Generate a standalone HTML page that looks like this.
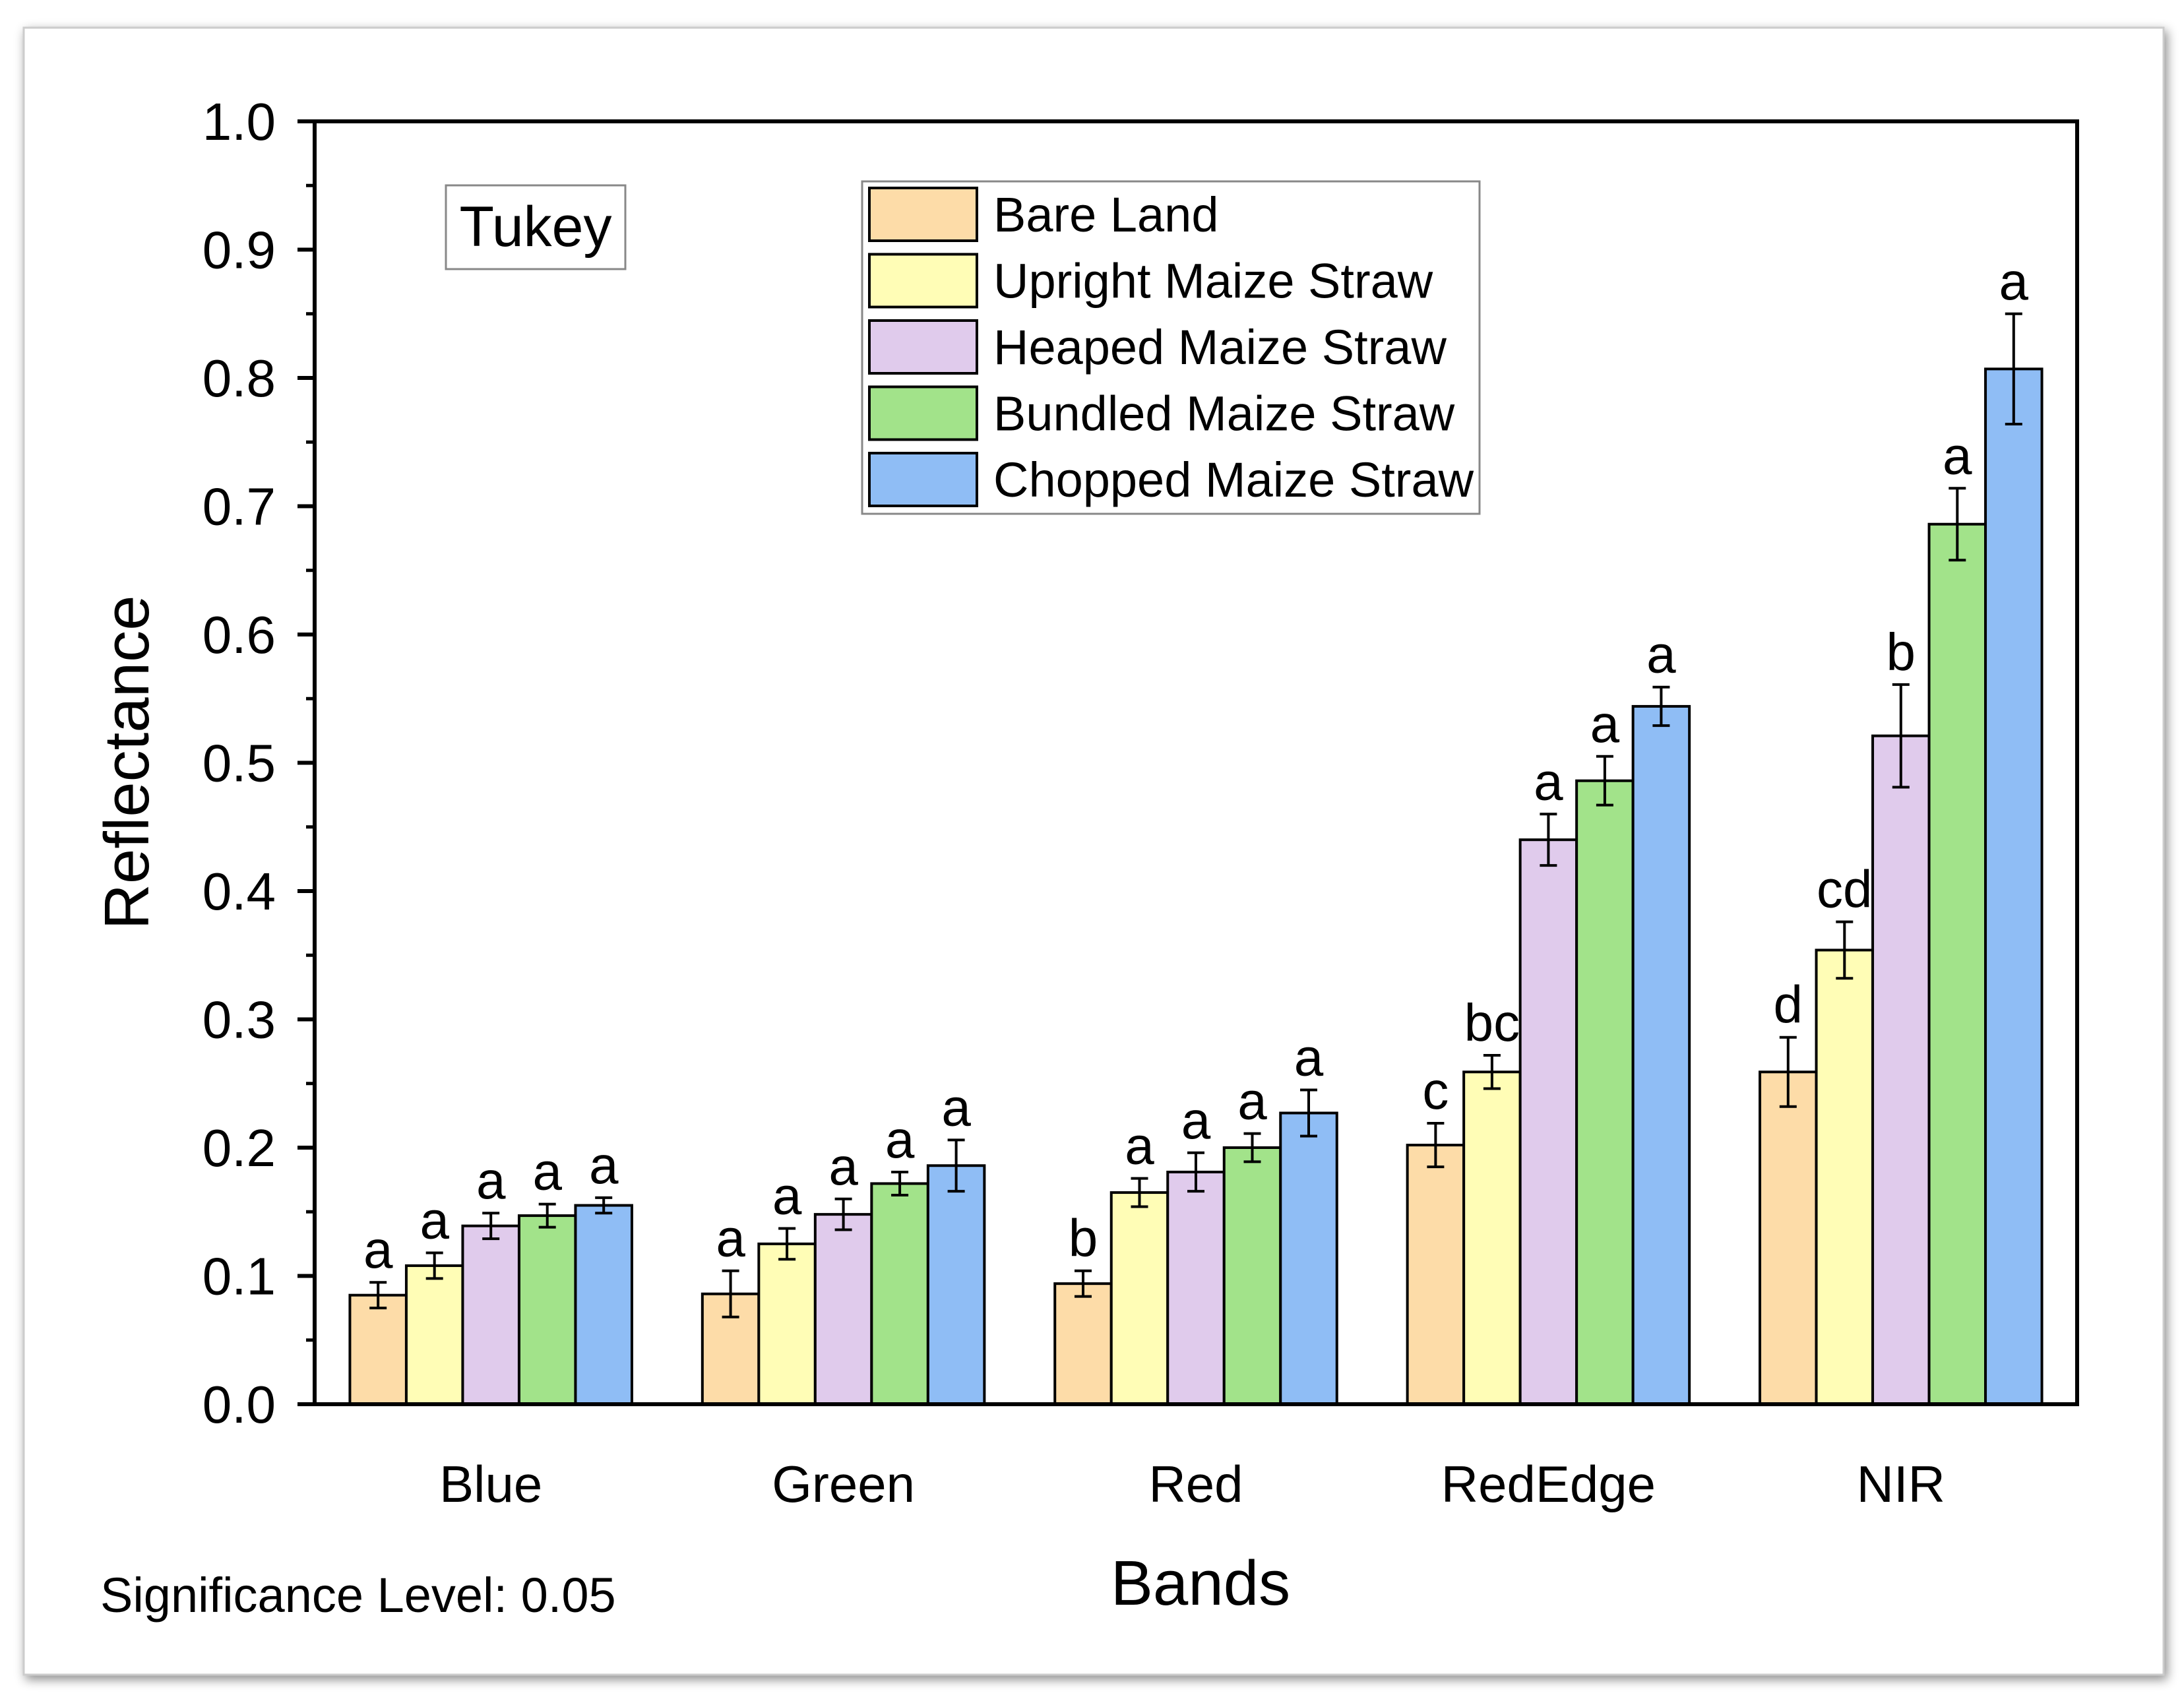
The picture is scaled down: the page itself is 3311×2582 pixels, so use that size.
<!DOCTYPE html>
<html><head><meta charset="utf-8"><style>
html,body{margin:0;padding:0;background:#fff;}
svg{display:block;font-family:"Liberation Sans",Arial,sans-serif;}
</style></head><body>
<svg id="chart" width="3311" height="2582" viewBox="0 0 3311 2582" xmlns="http://www.w3.org/2000/svg">
<defs><filter id="sh" x="-5%" y="-5%" width="110%" height="110%"><feDropShadow dx="4" dy="6" stdDeviation="8" flood-color="#000" flood-opacity="0.45"/></filter></defs>
<rect x="36" y="42" width="3244" height="2497" fill="#fff" stroke="#ccc" stroke-width="3" filter="url(#sh)"/>
<g id="plot"></g>
</svg>
<script>
const categories = ["Blue","Green","Red","RedEdge","NIR"];
const seriesNames = ["Bare Land","Upright Maize Straw","Heaped Maize Straw","Bundled Maize Straw","Chopped Maize Straw"];
const bareLand = [0.085,0.086,0.094,0.202,0.259];
const upright = [0.108,0.125,0.165,0.259,0.354];
const heaped = [0.139,0.148,0.181,0.440,0.521];
const bundled = [0.147,0.172,0.200,0.486,0.686];
const chopped = [0.155,0.186,0.227,0.544,0.807];
const errBare = [0.010,0.018,0.010,0.017,0.027];
const errUpright = [0.010,0.012,0.011,0.013,0.022];
const errHeaped = [0.010,0.012,0.015,0.020,0.040];
const errBundled = [0.009,0.009,0.011,0.019,0.028];
const errChopped = [0.006,0.020,0.018,0.015,0.043];
const lettersBare = ["a","a","b","c","d"];
const lettersUpright = ["a","a","a","bc","cd"];
const lettersHeaped = ["a","a","a","a","b"];
const lettersBundled = ["a","a","a","a","a"];
const lettersChopped = ["a","a","a","a","a"];
const yTicks = [0.0,0.1,0.2,0.3,0.4,0.5,0.6,0.7,0.8,0.9,1.0];
const yTickLabels = ["0.0","0.1","0.2","0.3","0.4","0.5","0.6","0.7","0.8","0.9","1.0"];

const values=[bareLand,upright,heaped,bundled,chopped];
const errs=[errBare,errUpright,errHeaped,errBundled,errChopped];
const letters=[lettersBare,lettersUpright,lettersHeaped,lettersBundled,lettersChopped];
const colors=["#FDDCA8","#FFFDB6","#E0CBEC","#A2E38A","#8FBDF5"];
const L=477,R=3149,T=184,B=2129;
const groupW=(R-L)/categories.length, barW=groupW*0.8/5;
function y(v){return B-(v/1.0)*(B-T);}
function xc(i){return L+(i+0.5)*groupW;}
const NS="http://www.w3.org/2000/svg";
const g=document.getElementById('plot');
function el(tag,attrs,parent){const e=document.createElementNS(NS,tag);for(const k in attrs)e.setAttribute(k,attrs[k]);(parent||g).appendChild(e);return e;}
function txt(s,attrs){const e=el('text',attrs);e.textContent=s;return e;}

for(let s=0;s<5;s++){for(let i=0;i<categories.length;i++){
  const x0=xc(i)-2.5*barW+s*barW, v=values[s][i], e=errs[s][i];
  const r=el('rect',{x:x0,y:y(v),width:barW,height:B-y(v),fill:colors[s],stroke:"#000","stroke-width":4});
  
  
  const cx=x0+barW/2;
  const eb=el('path',{d:`M${cx},${y(v+e)}V${y(v-e)}M${cx-13},${y(v+e)}H${cx+13}M${cx-13},${y(v-e)}H${cx+13}`,stroke:"#000","stroke-width":4,fill:"none"});
  
  
  const t=txt(letters[s][i],{x:cx,y:y(v+e)-22,"text-anchor":"middle","font-size":80,fill:"#000"});
  
  
}}
const ax=el('path',{d:`M${L},${T}H${R}V${B}H${L}Z`,fill:"none",stroke:"#000","stroke-width":6});


for(let k=0;k<yTicks.length;k++){
  const yy=y(yTicks[k]);
  const tk=el('line',{x1:L-26,x2:L,y1:yy,y2:yy,stroke:"#000","stroke-width":6});
  
  
  const tl=txt(yTickLabels[k],{x:418,y:yy+28,"text-anchor":"end","font-size":80,fill:"#000"});
  
  
  if(k<yTicks.length-1){const ym=y(yTicks[k]+0.05);
    const mt=el('line',{x1:L-13,x2:L,y1:ym,y2:ym,stroke:"#000","stroke-width":5});
    
    }
}
for(let i=0;i<categories.length;i++){
  const cl=txt(categories[i],{x:xc(i),y:2277,"text-anchor":"middle","font-size":78,fill:"#000"});
  
  
}
let t;
t=txt("Bands",{x:1820,y:2433,"text-anchor":"middle","font-size":96,fill:"#000"});


t=txt("Reflectance",{x:0,y:0,"text-anchor":"middle","font-size":96,fill:"#000",transform:"translate(225,1156) rotate(-90)"});


t=txt("Significance Level: 0.05",{x:152,y:2444,"font-size":74,fill:"#000"});


t=el('rect',{x:676,y:281,width:272,height:127,fill:"#fff",stroke:"#888","stroke-width":3});


t=txt("Tukey",{x:812,y:373,"text-anchor":"middle","font-size":86,fill:"#000"});


t=el('rect',{x:1307,y:275,width:936,height:504,fill:"#fff",stroke:"#888","stroke-width":3});


for(let s=0;s<5;s++){
  const cy=325+s*100.5;
  const sw=el('rect',{x:1318,y:cy-40,width:163,height:80,fill:colors[s],stroke:"#000","stroke-width":4});
  
  
  const lt=txt(seriesNames[s],{x:1506,y:cy+26,"font-size":74,fill:"#000"});
  
  
}
</script>
</body></html>
